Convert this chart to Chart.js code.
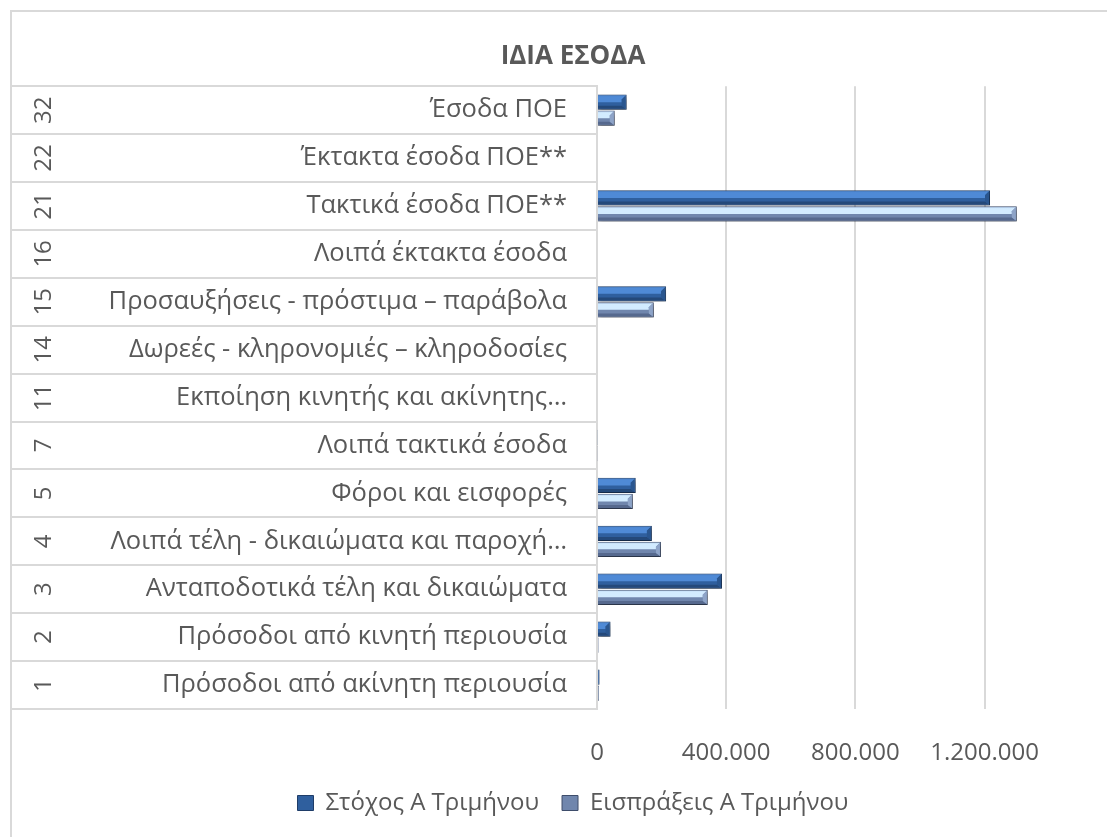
<!DOCTYPE html>
<html>
<head>
<meta charset="utf-8">
<script src="https://cdn.jsdelivr.net/npm/chart.js@4/dist/chart.umd.min.js"></script>
<style>
  body { margin: 0; background: #fff; overflow: hidden; }
  #wrap { width: 1146px; height: 837px; }
</style>
</head>
<body>
<div id="wrap"><canvas id="chart" width="1146" height="837"></canvas></div>
<script>
const codes = ["32", "22", "21", "16", "15", "14", "11", "7", "5", "4", "3", "2", "1"];
const names = [
  "Έσοδα ΠΟΕ",
  "Έκτακτα έσοδα ΠΟΕ**",
  "Τακτικά έσοδα ΠΟΕ**",
  "Λοιπά έκτακτα έσοδα",
  "Προσαυξήσεις - πρόστιμα – παράβολα",
  "Δωρεές - κληρονομιές – κληροδοσίες",
  "Εκποίηση κινητής και ακίνητης…",
  "Λοιπά τακτικά έσοδα",
  "Φόροι και εισφορές",
  "Λοιπά τέλη - δικαιώματα και παροχή…",
  "Ανταποδοτικά τέλη και δικαιώματα",
  "Πρόσοδοι από κινητή περιουσία",
  "Πρόσοδοι από ακίνητη περιουσία"
];
const target = [92000, 0, 1217000, 0, 214000, 0, 0, 2000, 120000, 170000, 387000, 42000, 8000];
const actual = [55000, 0, 1300000, 0, 176000, 0, 0, 2000, 111000, 198000, 343000, 5000, 6000];
const seriesNames = ["Στόχος Α Τριμήνου", "Εισπράξεις Α Τριμήνου"];
const tickValues = [0, 400000, 800000, 1200000];

const textColor = "#595959";
const lineColor = "#d9d9d9";
const fontFamily = "'Open Sans', 'Noto Sans', sans-serif";

// left table: frame, row separators and rotated codes
const tablePlugin = {
  id: "table",
  beforeDraw(chart) {
    const ctx = chart.ctx;
    const y = chart.scales.y;
    const left = chart.chartArea.left;
    const rowH = y.getPixelForValue(1) - y.getPixelForValue(0);
    ctx.save();
    ctx.strokeStyle = lineColor;
    ctx.lineWidth = 2;
    // outer frame (cropped on the right and bottom)
    ctx.beginPath();
    ctx.moveTo(11, chart.height);
    ctx.lineTo(11, 11);
    ctx.lineTo(chart.width, 11);
    ctx.stroke();
    for (let i = 0; i <= codes.length; i++) {
      const py = Math.round(y.getPixelForValue(i) - rowH / 2);
      ctx.beginPath();
      ctx.moveTo(11, py);
      ctx.lineTo(left, py);
      ctx.stroke();
    }
    ctx.fillStyle = textColor;
    ctx.font = "24px " + fontFamily;
    ctx.textAlign = "center";
    ctx.textBaseline = "middle";
    codes.forEach((c, i) => {
      ctx.save();
      ctx.translate(44, y.getPixelForValue(i));
      ctx.rotate(-Math.PI / 2);
      ctx.fillText(c, 0, 0);
      ctx.restore();
    });
    ctx.restore();
  }
};

// rough Excel bevel look on top of the flat bars
const bevelPlugin = {
  id: "bevel",
  beforeDatasetsDraw(chart) {
    const ctx = chart.ctx;
    ctx.save();
    ctx.shadowColor = "rgba(0,0,0,0.35)";
    ctx.shadowBlur = 4;
    ctx.shadowOffsetY = 3;
    ctx.shadowOffsetX = 1;
  },
  afterDatasetsDraw(chart) {
    const ctx = chart.ctx;
    ctx.restore();
    chart.data.datasets.forEach((ds, di) => {
      const meta = chart.getDatasetMeta(di);
      meta.data.forEach(bar => {
        const p = bar.getProps(["x", "y", "base", "height"], true);
        const l = Math.min(p.x, p.base);
        const r = Math.max(p.x, p.base);
        const w = r - l;
        if (w < 2) return;
        const t = p.y - p.height / 2;
        const h = p.height;
        const e = Math.min(5, w / 2);
        const mid = t + h * 0.5;
        ctx.save();
        // light upper band
        const g = ctx.createLinearGradient(0, t, 0, mid);
        g.addColorStop(0, ds.edgeColor);
        g.addColorStop(0.3, ds.hiColor);
        g.addColorStop(1, ds.hiColor);
        ctx.fillStyle = g;
        ctx.beginPath();
        ctx.moveTo(l, t + 1);
        ctx.lineTo(r - 1, t + 1);
        ctx.lineTo(r - e, t + e);
        ctx.lineTo(r - e, mid);
        ctx.lineTo(l, mid);
        ctx.closePath();
        ctx.fill();
        // darker lower band
        ctx.fillStyle = ds.loColor;
        ctx.beginPath();
        ctx.moveTo(l, t + h - e + 1);
        ctx.lineTo(r - e, t + h - e + 1);
        ctx.lineTo(r - 1, t + h - 1);
        ctx.lineTo(l, t + h - 1);
        ctx.closePath();
        ctx.fill();
        // right end cap
        ctx.fillStyle = ds.capColor;
        ctx.beginPath();
        ctx.moveTo(r - 1, t + 1);
        ctx.lineTo(r - 1, t + h - 1);
        ctx.lineTo(r - e, t + h - e + 1);
        ctx.lineTo(r - e, t + e);
        ctx.closePath();
        ctx.fill();
        ctx.restore();
      });
    });
  }
};

new Chart(document.getElementById("chart"), {
  type: "bar",
  data: {
    labels: names,
    datasets: [
      {
        label: seriesNames[0],
        data: target,
        backgroundColor: "#2f5f9e",
        borderColor: "#1f3d68",
        borderWidth: 1,
        edgeColor: "#3f78c2",
        hiColor: "#4f8ad6",
        loColor: "#24497a",
        capColor: "#2a568f",
        barPercentage: 0.95,
        categoryPercentage: 0.67
      },
      {
        label: seriesNames[1],
        data: actual,
        backgroundColor: "#7086ad",
        borderColor: "#3e4d6b",
        borderWidth: 1,
        edgeColor: "#a9c6ea",
        hiColor: "#d2ebff",
        loColor: "#56698e",
        capColor: "#8ea4c8",
        barPercentage: 0.95,
        categoryPercentage: 0.67
      }
    ]
  },
  options: {
    indexAxis: "y",
    responsive: false,
    animation: false,
    devicePixelRatio: 1,
    layout: { padding: { left: 0, right: 0, top: 0, bottom: 12 } },
    scales: {
      x: {
        min: 0,
        max: 1700000,
        afterBuildTicks: scale => {
          scale.ticks = tickValues.map(v => ({ value: v }));
        },
        afterFit: scale => { scale.height = 59; },
        grid: { color: lineColor, lineWidth: 2, drawTicks: false },
        border: { display: false },
        ticks: {
          padding: 30,
          color: textColor,
          font: { family: fontFamily, size: 24 },
          callback: v => v.toLocaleString("el-GR")
        }
      },
      y: {
        afterFit: scale => { scale.width = 597; },
        grid: { display: false },
        border: { display: true, color: lineColor, width: 2 },
        ticks: {
          padding: 22,
          color: textColor,
          font: { family: fontFamily, size: 25.5 }
        }
      }
    },
    plugins: {
      title: {
        display: true,
        text: "ΙΔΙΑ ΕΣΟΔΑ",
        color: textColor,
        font: { family: fontFamily, size: 26, weight: "bold" },
        padding: { top: 41, bottom: 14 }
      },
      legend: {
        position: "bottom",
        labels: {
          color: textColor,
          font: { family: fontFamily, size: 24 },
          boxWidth: 16,
          boxHeight: 15,
          padding: 23
        }
      },
      tooltip: { enabled: false }
    }
  },
  plugins: [tablePlugin, bevelPlugin]
});
</script>
</body>
</html>
